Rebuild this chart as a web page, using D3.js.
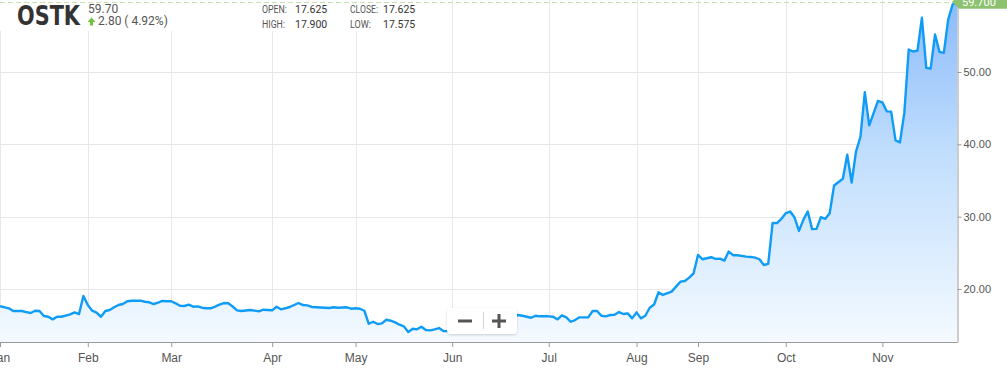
<!DOCTYPE html>
<html>
<head>
<meta charset="utf-8">
<script src="https://cdn.jsdelivr.net/npm/d3@7"></script>
<style>
  body { margin: 0; background: #fff; }
  svg { display: block; font-family: Roboto, "Open Sans", sans-serif; }
</style>
</head>
<body>
<div id="vis"></div>
<script>
// ---- data (trading day index, close) ----
var dayIndex = [0,2,3,5,6,7,8,9,10,11,12,13,14,16,17,18,19,20,21,22,23,24,25,26,27,28,29,30,32,33,34,35,36,37,38,39,40,41,42,43,44,45,46,47,48,49,50,51,52,53,54,55,57,58,59,60,62,63,64,65,66,68,69,70,71,72,74,75,76,77,79,80,81,82,83,84,85,86,87,88,89,90,91,92,93,94,95,96,97,98,99,100,101,102,118,119,121,122,123,125,126,127,128,129,130,131,132,134,135,136,137,138,139,140,141,142,143,144,145,146,147,148,149,150,151,153,154,155,156,157,158,159,160,161,162,163,164,165,166,167,168,170,171,172,173,174,175,176,177,178,179,180,181,182,183,184,185,186,187,188,189,190,192,193,194,195,196,197,198,200,201,202,203,204,205,206,207,208,209,210,211,212,213,214,215,216,217,218];
var closes = [17.625,17.33,16.95,16.95,16.81,16.68,16.99,16.95,16.26,16.16,15.80,16.16,16.16,16.50,16.77,16.54,19.03,17.78,17.00,16.72,16.16,16.95,17.09,17.47,17.78,17.92,18.30,18.38,18.38,18.24,18.16,17.92,18.10,18.34,18.30,18.30,18.02,17.69,17.65,17.83,17.55,17.60,17.41,17.33,17.33,17.55,17.83,18.06,18.02,17.58,17.05,16.95,17.09,17.00,16.91,17.13,17.05,17.55,17.19,17.33,17.51,18.06,17.78,17.74,17.51,17.47,17.41,17.37,17.47,17.41,17.47,17.27,17.33,17.27,16.99,15.19,15.47,15.15,15.25,15.75,15.61,15.39,15.06,14.83,14.04,14.50,14.42,14.78,14.32,14.28,14.42,14.60,14.18,14.18,16.40,16.30,16.02,16.30,16.22,16.22,16.16,15.80,16.36,16.08,15.47,15.71,16.08,16.08,16.95,16.95,16.30,16.22,16.40,16.44,16.81,16.54,16.63,15.94,16.77,15.94,16.30,17.40,17.85,19.54,19.17,19.63,20.32,21.01,21.11,21.57,22.17,24.71,24.11,24.25,24.39,24.16,24.20,23.92,25.17,24.67,24.67,24.47,24.43,24.34,24.11,23.32,23.46,29.14,29.10,29.70,30.48,30.71,29.88,28.03,29.56,30.71,28.27,28.31,29.93,29.70,30.48,34.31,35.24,38.56,34.72,39.02,41.01,47.19,42.62,46.00,45.80,44.56,44.52,40.54,40.26,44.34,53.10,52.83,52.96,57.49,50.57,50.47,55.18,52.78,52.65,57.26,59.33,59.70];

var months = ["Jan","Feb","Mar","Apr","May","Jun","Jul","Aug","Sep","Oct","Nov"];
var monthStart = [0,20,39,62,81,103,125,145,159,179,201];
var yTicks = [20,30,40,50];
var yExtent = [12.67, 59.95];

var ticker = "OSTK";
var last = 59.70, change = 2.80, changePct = 4.92;
var quoteLabels = ["OPEN:", "CLOSE:", "HIGH:", "LOW:"];
var quoteValues = [17.625, 17.625, 17.900, 17.575];

// ---- setup ----
var width = 1007, height = 370;
var plotW = 957, plotH = 342;

var svg = d3.select("#vis").append("svg")
  .attr("width", width)
  .attr("height", height);

var data = dayIndex.map(function(d, i) { return {i: d, v: closes[i]}; });

var x = d3.scaleLinear().domain([0, d3.max(dayIndex)]).range([0, plotW]);
var y = d3.scaleLinear().domain(yExtent).range([plotH, 0]);

// gradient for the area
var defs = svg.append("defs");
var grad = defs.append("linearGradient")
  .attr("id", "fillGrad")
  .attr("x1", 0).attr("y1", 0).attr("x2", 0).attr("y2", 1);
grad.append("stop").attr("offset", "0%").attr("stop-color", "#8cbbfb");
grad.append("stop").attr("offset", "45%").attr("stop-color", "#c1defd");
grad.append("stop").attr("offset", "100%").attr("stop-color", "#f4faff");

var clip = defs.append("clipPath").attr("id", "plotClip");
clip.append("rect").attr("x", 0).attr("y", 0).attr("width", plotW).attr("height", plotH);

// grid
var grid = svg.append("g");
grid.selectAll(".hg").data(yTicks).join("line")
  .attr("x1", 0).attr("x2", plotW)
  .attr("y1", function(d) { return Math.round(y(d)) + 0.5; })
  .attr("y2", function(d) { return Math.round(y(d)) + 0.5; })
  .attr("stroke", "#e7e7e7");
grid.selectAll(".vg").data(monthStart).join("line")
  .attr("x1", function(d) { return Math.round(x(d)) + 0.5; })
  .attr("x2", function(d) { return Math.round(x(d)) + 0.5; })
  .attr("y1", 0).attr("y2", plotH)
  .attr("stroke", "#e7e7e7");

// area + line
var area = d3.area()
  .x(function(d) { return x(d.i); })
  .y0(plotH)
  .y1(function(d) { return y(d.v); });

var line = d3.line()
  .x(function(d) { return x(d.i); })
  .y(function(d) { return y(d.v); });

var plot = svg.append("g").attr("clip-path", "url(#plotClip)");
plot.append("path").datum(data)
  .attr("d", area)
  .attr("fill", "url(#fillGrad)");
plot.append("path").datum(data)
  .attr("d", line)
  .attr("fill", "none")
  .attr("stroke", "#0f9cf6")
  .attr("stroke-width", 2.4)
  .attr("stroke-linejoin", "round");

// header background (hides grid behind the quote)
svg.append("rect").attr("x", 0).attr("y", 0).attr("width", 446).attr("height", 31).attr("fill", "#fff");

// last price dashed line
svg.append("line")
  .attr("x1", 0).attr("x2", plotW)
  .attr("y1", Math.round(y(last)) + 0.5).attr("y2", Math.round(y(last)) + 0.5)
  .attr("stroke", "#c6e2b3")
  .attr("stroke-dasharray", "5,3");

// axes
var xAxis = svg.append("g")
  .attr("transform", "translate(0," + plotH + ")")
  .call(d3.axisBottom(x).tickValues(monthStart)
    .tickFormat(function(d, i) { return months[i]; })
    .tickSize(5).tickSizeOuter(0).tickPadding(6));
xAxis.select(".domain").attr("stroke", "#9a9a9a");
xAxis.selectAll(".tick line").attr("stroke", "#9a9a9a");
xAxis.selectAll(".tick text").attr("fill", "#555").attr("font-size", "12px");

var yAxis = svg.append("g")
  .attr("transform", "translate(" + (plotW + 0.5) + ",0)")
  .call(d3.axisRight(y).tickValues(yTicks)
    .tickFormat(d3.format(".2f"))
    .tickSize(4).tickSizeOuter(0).tickPadding(2));
yAxis.select(".domain").attr("stroke", "#9a9a9a");
yAxis.selectAll(".tick line").attr("stroke", "#9a9a9a");
yAxis.selectAll(".tick text").attr("fill", "#555").attr("font-size", "11px");

// last price tag
var tagY = y(last);
var tag = svg.append("g");
tag.append("path")
  .attr("d", "M" + (plotW - 5) + "," + tagY + " L" + (plotW + 2) + "," + (tagY - 7) +
        " H" + width + " V" + (tagY + 7) + " H" + (plotW + 2) + " Z")
  .attr("fill", "#8cc26f");
tag.append("text")
  .attr("x", plotW + 5).attr("y", tagY + 4)
  .attr("fill", "#fff").attr("font-size", "11px")
  .text(last.toFixed(3));

// ---- header quote ----
var head = svg.append("g");
head.append("text")
  .attr("x", 17).attr("y", 25)
  .attr("font-family", "'DejaVu Sans Condensed', Roboto, sans-serif")
  .attr("font-weight", "bold").attr("font-size", "27px")
  .attr("fill", "#333")
  .attr("textLength", 63).attr("lengthAdjust", "spacingAndGlyphs")
  .text(ticker);
head.append("text")
  .attr("x", 88).attr("y", 13)
  .attr("font-size", "12px").attr("fill", "#555")
  .text(last.toFixed(2));
head.append("path")
  .attr("d", "M87.5,22 L91.5,17.5 L95.5,22 H93 V25.5 H90 V22 Z")
  .attr("fill", "#72c03c");
head.append("text")
  .attr("x", 98).attr("y", 25)
  .attr("font-size", "12px").attr("fill", "#555")
  .text(change.toFixed(2) + " ( " + changePct.toFixed(2) + "%)");

var qx = [262, 350], vx = [295, 383], qy = [13, 28];
var labelW = [25, 28, 23, 21];
quoteLabels.forEach(function(lab, i) {
  var col = i % 2, row = Math.floor(i / 2);
  head.append("text")
    .attr("x", qx[col]).attr("y", qy[row])
    .attr("font-size", "10px").attr("fill", "#555")
    .attr("textLength", labelW[i]).attr("lengthAdjust", "spacingAndGlyphs")
    .text(lab);
  head.append("text")
    .attr("x", vx[col]).attr("y", qy[row] - 0.5)
    .attr("font-size", "10.5px").attr("fill", "#333")
    .text(quoteValues[i].toFixed(3));
});

// ---- zoom control ----
var zc = svg.append("g").attr("transform", "translate(447,308)");
defs.append("filter").attr("id", "shadow")
  .attr("x", "-20%").attr("y", "-30%").attr("width", "140%").attr("height", "170%")
  .append("feDropShadow").attr("dx", 0).attr("dy", 1).attr("stdDeviation", 1.2)
  .attr("flood-color", "#000").attr("flood-opacity", 0.18);
zc.append("rect")
  .attr("width", 70).attr("height", 26).attr("rx", 4)
  .attr("fill", "#fff").attr("filter", "url(#shadow)");
zc.append("line").attr("x1", 11).attr("x2", 25).attr("y1", 13).attr("y2", 13)
  .attr("stroke", "#555").attr("stroke-width", 3);
zc.append("line").attr("x1", 36.5).attr("x2", 36.5).attr("y1", 4).attr("y2", 21)
  .attr("stroke", "#d5d5d5");
zc.append("line").attr("x1", 45).attr("x2", 59).attr("y1", 13).attr("y2", 13)
  .attr("stroke", "#555").attr("stroke-width", 3);
zc.append("line").attr("x1", 52).attr("x2", 52).attr("y1", 6).attr("y2", 20)
  .attr("stroke", "#555").attr("stroke-width", 3);
</script>
</body>
</html>
